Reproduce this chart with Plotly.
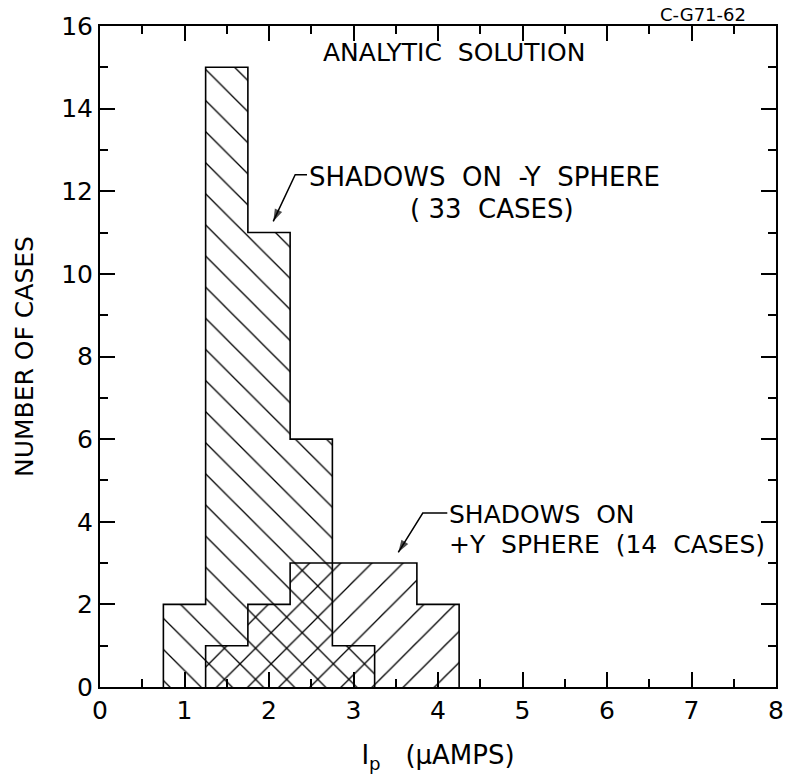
import plotly.graph_objects as go

# Histogram bins (I_p, micro-amps): centres of 0.5-wide bins
bin_centers = [1.0, 1.5, 2.0, 2.5, 3.0, 3.5, 4.0]
bin_width = 0.5

# Number of cases per bin
minus_y_cases = [2, 15, 11, 6, 1, 0, 0]   # shadows on -Y sphere
plus_y_cases = [0, 1, 2, 3, 3, 3, 2]      # shadows on +Y sphere

FONT = "DejaVu Sans"
NB = "\u00a0"


def step_outline(centers, counts, width):
    """Outline of a histogram built from its bins (step path)."""
    pairs = [(c, n) for c, n in zip(centers, counts) if n > 0]
    xs = [pairs[0][0] - width / 2]
    ys = [0]
    for c, n in pairs:
        xs += [c - width / 2, c + width / 2]
        ys += [n, n]
    xs.append(pairs[-1][0] + width / 2)
    ys.append(0)
    return xs, ys


fig = go.Figure()

hatch = dict(fillmode="replace", fgcolor="black", bgcolor="rgba(0,0,0,0)",
             size=22, solidity=0.06)

fig.add_trace(go.Bar(
    x=bin_centers, y=minus_y_cases, width=bin_width,
    marker=dict(color="rgba(0,0,0,0)", line=dict(width=0),
                pattern=dict(shape="\\", **hatch)),
    hoverinfo="skip", showlegend=False,
))
fig.add_trace(go.Bar(
    x=bin_centers, y=plus_y_cases, width=bin_width,
    marker=dict(color="rgba(0,0,0,0)", line=dict(width=0),
                pattern=dict(shape="/", **hatch)),
    hoverinfo="skip", showlegend=False,
))

for counts in (minus_y_cases, plus_y_cases):
    ox, oy = step_outline(bin_centers, counts, bin_width)
    fig.add_trace(go.Scatter(x=ox, y=oy, mode="lines",
                             line=dict(color="black", width=1.6),
                             hoverinfo="skip", showlegend=False))

# Leader lines from the labels, ending in an arrowhead
leaders = [
    ([2.45, 2.31, 2.05], [12.4, 12.4, 11.27]),
    ([4.11, 3.82, 3.53], [4.21, 4.21, 3.26]),
]
for lx, ly in leaders:
    fig.add_trace(go.Scatter(
        x=lx, y=ly, mode="lines+markers",
        line=dict(color="black", width=1.5),
        marker=dict(symbol="arrow", size=[0, 0, 13], angleref="previous",
                    color="black", line=dict(width=0)),
        hoverinfo="skip", showlegend=False,
    ))

big_font = dict(family=FONT, size=26, color="black")
mid_font = dict(family=FONT, size=25, color="black")

annotations = [
    dict(x=4.19, y=15.35, xref="x", yref="y", showarrow=False,
         text=f"ANALYTIC{NB}{NB}SOLUTION", font=dict(family=FONT, size=25, color="black")),
    dict(x=0.892, y=1.017, xref="paper", yref="paper", xanchor="center", yanchor="middle",
         showarrow=False, text="C-G71-62", font=dict(family=FONT, size=18, color="black")),
    dict(x=2.45, y=12.35, xref="x", yref="y", xanchor="left", showarrow=False,
         text=f"SHADOWS{NB}{NB}ON{NB}{NB}-Y{NB}{NB}SPHERE", font=big_font),
    dict(x=4.64, y=11.57, xref="x", yref="y", showarrow=False,
         text=f"({NB}33{NB}{NB}CASES)", font=big_font),
    dict(x=4.11, y=4.18, xref="x", yref="y", xanchor="left", showarrow=False,
         text=f"SHADOWS{NB}{NB}ON", font=mid_font),
    dict(x=4.11, y=3.44, xref="x", yref="y", xanchor="left", showarrow=False,
         text=f"+Y{NB}{NB}SPHERE{NB}{NB}(14{NB}{NB}CASES)", font=mid_font),
]

axis_common = dict(
    showline=True, linecolor="black", linewidth=2, mirror="ticks",
    ticks="inside", ticklen=15, tickwidth=1.8, tickcolor="black",
    showgrid=False, zeroline=False,
    tickfont=dict(family=FONT, size=25, color="black"),
)

fig.update_layout(
    template="none",
    width=785, height=774,
    margin=dict(l=100, r=9, t=26, b=87),
    paper_bgcolor="white", plot_bgcolor="white",
    barmode="overlay", bargap=0,
    showlegend=False,
    annotations=annotations,
    xaxis=dict(
        range=[0, 8], tickmode="linear", tick0=0, dtick=1,
        minor=dict(tickmode="linear", tick0=0, dtick=0.5, ticks="inside",
                   ticklen=8, tickwidth=1.8, tickcolor="black", showgrid=False),
        ticklabelstandoff=0,
        title=dict(text=f"I<sub>p</sub>{NB}{NB}{NB}(μAMPS)", standoff=22,
                   font=dict(family=FONT, size=26, color="black")),
        **axis_common,
    ),
    yaxis=dict(
        range=[0, 16], tickmode="linear", tick0=0, dtick=2,
        minor=dict(tickmode="linear", tick0=0, dtick=1, ticks="inside",
                   ticklen=8, tickwidth=1.8, tickcolor="black", showgrid=False),
        ticklabelstandoff=0,
        title=dict(text="NUMBER OF CASES", standoff=20,
                   font=dict(family=FONT, size=25, color="black")),
        **axis_common,
    ),
)

fig.write_html("out.html")
